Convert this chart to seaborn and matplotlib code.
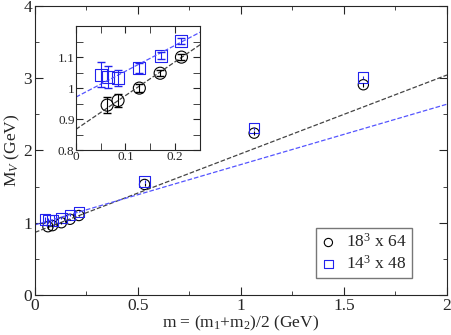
import numpy as np
import pandas as pd
import matplotlib
matplotlib.use("Agg")
import matplotlib.pyplot as plt
import seaborn as sns
from matplotlib.ticker import MultipleLocator, FuncFormatter

# 18^3 x 64 lattice
m18 = [0.063, 0.085, 0.128, 0.170, 0.213, 0.532, 1.064, 1.594]
mv18 = [0.945, 0.960, 1.000, 1.048, 1.100, 1.53, 2.24, 2.91]
err18 = [0.025, 0.020, 0.012, 0.010, 0.010, 0.02, 0.03, 0.03]

# 14^3 x 48 lattice
m14 = [0.050, 0.065, 0.085, 0.128, 0.171, 0.213, 0.532, 1.064, 1.594]
mv14 = [1.043, 1.035, 1.032, 1.065, 1.105, 1.153, 1.57, 2.31, 3.01]
err14 = [0.040, 0.035, 0.025, 0.015, 0.010, 0.010, 0.02, 0.02, 0.02]

# linear fits: intercept, slope
fit18 = [0.867, 1.089]
fit14 = [0.971, 0.835]

labels = [r"18$^3$ x 64", r"14$^3$ x 48"]

sns.set_style("ticks")
plt.rcParams["font.family"] = ["Liberation Serif", "DejaVu Serif"]
plt.rcParams["mathtext.fontset"] = "custom"
plt.rcParams["mathtext.rm"] = "Liberation Serif"
plt.rcParams["mathtext.it"] = "Liberation Serif:italic"
plt.rcParams["xtick.direction"] = "in"
plt.rcParams["ytick.direction"] = "in"

df18 = pd.DataFrame({"m": m18, "mv": mv18, "err": err18})
df14 = pd.DataFrame({"m": m14, "mv": mv14, "err": err14})
xs = np.array([0.0, 2.0])
lines = pd.DataFrame({
    "x": np.concatenate([xs, xs]),
    "y": np.concatenate([fit18[0] + fit18[1] * xs, fit14[0] + fit14[1] * xs]),
    "set": ["a", "a", "b", "b"],
})

blue = "#2222ee"
lblue = "#5555ff"
fmt = FuncFormatter(lambda v, p: f"{v:g}")


def draw(ax, ms, cap):
    sns.lineplot(data=lines[lines.set == "a"], x="x", y="y", ax=ax, color="#444444",
                 lw=0.9, linestyle="--", legend=False)
    sns.lineplot(data=lines[lines.set == "b"], x="x", y="y", ax=ax, color=lblue,
                 lw=0.9, linestyle="--", legend=False)
    ax.errorbar(df18.m, df18.mv, yerr=df18.err, fmt="none", ecolor="black",
                elinewidth=0.8, capsize=cap)
    ax.errorbar(df14.m, df14.mv, yerr=df14.err, fmt="none", ecolor=blue,
                elinewidth=0.8, capsize=cap)
    sns.scatterplot(data=df18, x="m", y="mv", ax=ax, marker="o", s=ms,
                    facecolor="none", edgecolor="black", linewidth=0.8, label=labels[0])
    sns.scatterplot(data=df14, x="m", y="mv", ax=ax, marker="s", s=ms,
                    facecolor="none", edgecolor=blue, linewidth=0.8, label=labels[1])
    ax.xaxis.set_major_formatter(fmt)
    ax.yaxis.set_major_formatter(fmt)


fig = plt.figure(figsize=(4.52, 3.35), dpi=100)
ax = fig.add_axes([0.0774, 0.1194, 0.9115, 0.8627])
draw(ax, 55, 0)
ax.set_xlim(0, 2)
ax.set_ylim(0, 4)
ax.xaxis.set_major_locator(MultipleLocator(0.5))
ax.xaxis.set_minor_locator(MultipleLocator(0.25))
ax.yaxis.set_major_locator(MultipleLocator(1))
ax.yaxis.set_minor_locator(MultipleLocator(0.5))
ax.tick_params(which="both", top=True, right=True, labelsize=12.5, pad=2)
ax.tick_params(which="major", length=6)
ax.tick_params(which="minor", length=3)
ax.set_xlabel(r"m = (m$_1$+m$_2$)/2 (GeV)", fontsize=12.5, labelpad=0)
ax.set_ylabel(r"M$_V$ (GeV)", fontsize=12.5, labelpad=1)
ax.legend(loc="lower right", bbox_to_anchor=(0.935, 0.03), fontsize=12.5, frameon=True,
          fancybox=False, edgecolor="#555555", handletextpad=0.6, borderpad=0.3,
          handlelength=0.8, labelspacing=0.2, markerscale=0.8)

ins = fig.add_axes([0.168, 0.552, 0.274, 0.370])
draw(ins, 75, 3)
ins.get_legend().remove()
ins.set_xlim(0, 0.25)
ins.set_ylim(0.8, 1.2)
ins.xaxis.set_major_locator(MultipleLocator(0.1))
ins.xaxis.set_minor_locator(MultipleLocator(0.05))
ins.yaxis.set_major_locator(MultipleLocator(0.1))
ins.yaxis.set_minor_locator(MultipleLocator(0.05))
ins.set_yticks([0.8, 0.9, 1.0, 1.1])
ins.tick_params(which="both", top=True, right=True, labelsize=9.5, pad=1)
ins.tick_params(which="major", length=5)
ins.tick_params(which="minor", length=5)
ins.set_xlabel("")
ins.set_ylabel("")

fig.savefig("out.png", dpi=100)
